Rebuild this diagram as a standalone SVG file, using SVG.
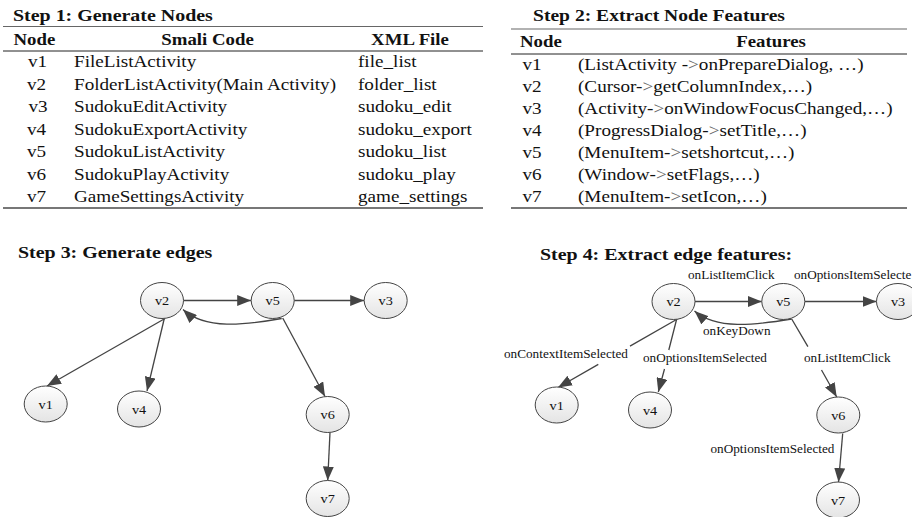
<svg xmlns="http://www.w3.org/2000/svg" width="912" height="517" viewBox="0 0 912 517">
<defs>
<linearGradient id="nodeFill" x1="0" y1="0" x2="0" y2="1"><stop offset="0" stop-color="#ffffff"/><stop offset="1" stop-color="#e4e4e4"/></linearGradient>
<marker id="arr" viewBox="0 0 14 11" refX="14" refY="5.5" markerWidth="14" markerHeight="11" markerUnits="userSpaceOnUse" orient="auto"><path d="M0,0 L14,5.5 L0,11 Z" fill="#444"/></marker>
</defs>
<style>
text{font-family:"Liberation Serif","Times New Roman",serif;fill:#111}
.title{font-size:17.5px;font-weight:bold}
.hdr{font-size:16.5px;font-weight:bold}
.cell{font-size:16.8px}
.lbl{font-size:11.6px}
.nl{font-size:12.5px;text-anchor:middle}
.mid{text-anchor:middle}
.node{fill:url(#nodeFill);stroke:#444;stroke-width:1}
.edge{fill:none;stroke:#444;stroke-width:1.3;marker-end:url(#arr)}
.rule{stroke:#666;stroke-width:1.2}
.hrule{stroke:#222;stroke-width:1}
.brule{stroke:#777;stroke-width:1.8}
.gt{fill:#666}
</style>

<g id="table1">
<text class="title" transform="translate(13 21) scale(1.14 1)">Step 1: Generate Nodes</text>
<line class="rule" x1="3" y1="26.5" x2="483" y2="26.5"/>
<text class="hdr" transform="translate(13.5 45) scale(1.14 1)">Node</text>
<text class="hdr mid" transform="translate(207.5 45) scale(1.14 1)">Smali Code</text>
<text class="hdr mid" transform="translate(410 45) scale(1.14 1)">XML File</text>
<line class="hrule" x1="3" y1="51" x2="483" y2="51"/>
<text class="cell" transform="translate(28 67) scale(1.14 1)">v1</text>
<text class="cell" transform="translate(74 67) scale(1.14 1)">FileListActivity</text>
<text class="cell" transform="translate(358 67) scale(1.14 1)">file_list</text>
<text class="cell" transform="translate(27 89.5) scale(1.14 1)">v2</text>
<text class="cell" transform="translate(74 89.5) scale(1.14 1)">FolderListActivity(Main Activity)</text>
<text class="cell" transform="translate(358 89.5) scale(1.14 1)">folder_list</text>
<text class="cell" transform="translate(28.5 112) scale(1.14 1)">v3</text>
<text class="cell" transform="translate(74 112) scale(1.14 1)">SudokuEditActivity</text>
<text class="cell" transform="translate(358 112) scale(1.14 1)">sudoku_edit</text>
<text class="cell" transform="translate(27 134.5) scale(1.14 1)">v4</text>
<text class="cell" transform="translate(74 134.5) scale(1.14 1)">SudokuExportActivity</text>
<text class="cell" transform="translate(358 134.5) scale(1.14 1)">sudoku_export</text>
<text class="cell" transform="translate(27 157) scale(1.14 1)">v5</text>
<text class="cell" transform="translate(74 157) scale(1.14 1)">SudokuListActivity</text>
<text class="cell" transform="translate(358 157) scale(1.14 1)">sudoku_list</text>
<text class="cell" transform="translate(27 179.5) scale(1.14 1)">v6</text>
<text class="cell" transform="translate(74 179.5) scale(1.14 1)">SudokuPlayActivity</text>
<text class="cell" transform="translate(358 179.5) scale(1.14 1)">sudoku_play</text>
<text class="cell" transform="translate(27 202) scale(1.14 1)">v7</text>
<text class="cell" transform="translate(74 202) scale(1.14 1)">GameSettingsActivity</text>
<text class="cell" transform="translate(358 202) scale(1.14 1)">game_settings</text>
<line class="brule" x1="3" y1="208" x2="483" y2="208"/>
</g>

<g id="table2">
<text class="title" transform="translate(533 21) scale(1.12 1)">Step 2: Extract Node Features</text>
<line class="rule" x1="511" y1="29" x2="907" y2="29"/>
<text class="hdr" transform="translate(520 47) scale(1.14 1)">Node</text>
<text class="hdr mid" transform="translate(771 47) scale(1.14 1)">Features</text>
<line class="hrule" x1="511" y1="54" x2="907" y2="54"/>
<text class="cell" transform="translate(522.5 69.5) scale(1.14 1)">v1</text>
<text class="cell" transform="translate(578 69.5) scale(1.14 1)">(ListActivity -<tspan class="gt">&gt;</tspan>onPrepareDialog, …)</text>
<text class="cell" transform="translate(522.5 91.6) scale(1.14 1)">v2</text>
<text class="cell" transform="translate(578 91.6) scale(1.14 1)">(Cursor-<tspan class="gt">&gt;</tspan>getColumnIndex,…)</text>
<text class="cell" transform="translate(522.5 113.7) scale(1.14 1)">v3</text>
<text class="cell" transform="translate(578 113.7) scale(1.14 1)">(Activity-<tspan class="gt">&gt;</tspan>onWindowFocusChanged,…)</text>
<text class="cell" transform="translate(522.5 135.8) scale(1.14 1)">v4</text>
<text class="cell" transform="translate(578 135.8) scale(1.14 1)">(ProgressDialog-<tspan class="gt">&gt;</tspan>setTitle,…)</text>
<text class="cell" transform="translate(522.5 157.9) scale(1.14 1)">v5</text>
<text class="cell" transform="translate(578 157.9) scale(1.14 1)">(MenuItem-<tspan class="gt">&gt;</tspan>setshortcut,…)</text>
<text class="cell" transform="translate(522.5 180) scale(1.14 1)">v6</text>
<text class="cell" transform="translate(578 180) scale(1.14 1)">(Window-<tspan class="gt">&gt;</tspan>setFlags,…)</text>
<text class="cell" transform="translate(522.5 202) scale(1.14 1)">v7</text>
<text class="cell" transform="translate(578 202) scale(1.14 1)">(MenuItem-<tspan class="gt">&gt;</tspan>setIcon,…)</text>
<line class="brule" x1="511" y1="208" x2="907" y2="208"/>
</g>

<text class="title" transform="translate(18 258) scale(1.14 1)">Step 3: Generate edges</text>
<text class="title" transform="translate(540 260) scale(1.14 1)">Step 4: Extract edge features:</text>

<g id="edges3">
<path class="edge" d="M183.5,300.5 L251.2,300.5"/>
<path class="edge" d="M294.2,300.5 L364.2,300.5"/>
<path class="edge" d="M281.7,318.5 C245,325 205,330 183,309.5"/>
<path class="edge" d="M165,318.5 L47,386"/>
<path class="edge" d="M164.3,318.5 L147,391"/>
<path class="edge" d="M282.7,318 L325,396.5"/>
<path class="edge" d="M330,432.5 L327.7,480.5"/>
</g>

<g id="s3-v2"><ellipse class="node" cx="162" cy="300.5" rx="21.5" ry="18"/><text class="nl" transform="translate(162 305) scale(1.14 1)">v2</text></g>
<g id="s3-v5"><ellipse class="node" cx="272.7" cy="300.5" rx="21.5" ry="18"/><text class="nl" transform="translate(272.7 305) scale(1.14 1)">v5</text></g>
<g id="s3-v3"><ellipse class="node" cx="385.7" cy="300.5" rx="21.5" ry="18"/><text class="nl" transform="translate(385.7 305) scale(1.14 1)">v3</text></g>
<g id="s3-v1"><ellipse class="node" cx="45.7" cy="404" rx="21.5" ry="18"/><text class="nl" transform="translate(45.7 408.5) scale(1.14 1)">v1</text></g>
<g id="s3-v4"><ellipse class="node" cx="139" cy="409" rx="21.5" ry="18"/><text class="nl" transform="translate(139 413.5) scale(1.14 1)">v4</text></g>
<g id="s3-v6"><ellipse class="node" cx="327.7" cy="414.5" rx="21.5" ry="18"/><text class="nl" transform="translate(327.7 419) scale(1.14 1)">v6</text></g>
<g id="s3-v7"><ellipse class="node" cx="327.7" cy="498.5" rx="21.5" ry="18"/><text class="nl" transform="translate(327.7 503) scale(1.14 1)">v7</text></g>

<g id="edges4">
<path class="edge" d="M695,301.5 L761.8,301.5"/>
<path class="edge" d="M804.8,301.5 L876.5,301.5"/>
<path class="edge" d="M791.7,319 C755,325 716,330 694.5,311"/>
<path class="edge" d="M678.3,318.5 L630,346.1 M598.3,364.4 L558,387.5"/>
<path class="edge" d="M676.7,319 L668.8,350 M664.5,369 L658.3,392"/>
<path class="edge" d="M791.7,319 L807.9,346.7 M821.5,370 L836.7,397"/>
<path class="edge" d="M842.7,433.5 L838.5,482"/>
<text class="lbl" transform="translate(688 279) scale(1.14 1)">onListItemClick</text>
<text class="lbl" transform="translate(794 279) scale(1.14 1)">onOptionsItemSelecte</text>
<text class="lbl" transform="translate(703 335) scale(1.14 1)">onKeyDown</text>
<text class="lbl" transform="translate(504 358) scale(1.14 1)">onContextItemSelected</text>
<text class="lbl" transform="translate(643 361.5) scale(1.14 1)">onOptionsItemSelected</text>
<text class="lbl" transform="translate(804 361.5) scale(1.14 1)">onListItemClick</text>
<text class="lbl" transform="translate(710.5 453) scale(1.14 1)">onOptionsItemSelected</text>
</g>

<g id="s4-v2"><ellipse class="node" cx="673.5" cy="301.5" rx="21.5" ry="18"/><text class="nl" transform="translate(673.5 306) scale(1.14 1)">v2</text></g>
<g id="s4-v5"><ellipse class="node" cx="783.3" cy="301.5" rx="21.5" ry="18"/><text class="nl" transform="translate(783.3 306) scale(1.14 1)">v5</text></g>
<g id="s4-v3"><ellipse class="node" cx="898" cy="301.5" rx="21.5" ry="18"/><text class="nl" transform="translate(898 306) scale(1.14 1)">v3</text></g>
<g id="s4-v1"><ellipse class="node" cx="556.7" cy="405" rx="21.5" ry="18"/><text class="nl" transform="translate(556.7 409.5) scale(1.14 1)">v1</text></g>
<g id="s4-v4"><ellipse class="node" cx="650" cy="410" rx="21.5" ry="18"/><text class="nl" transform="translate(650 414.5) scale(1.14 1)">v4</text></g>
<g id="s4-v6"><ellipse class="node" cx="838.3" cy="415" rx="21.5" ry="18"/><text class="nl" transform="translate(838.3 419.5) scale(1.14 1)">v6</text></g>
<g id="s4-v7"><ellipse class="node" cx="838" cy="500" rx="21.5" ry="18"/><text class="nl" transform="translate(838 504.5) scale(1.14 1)">v7</text></g>
</svg>
